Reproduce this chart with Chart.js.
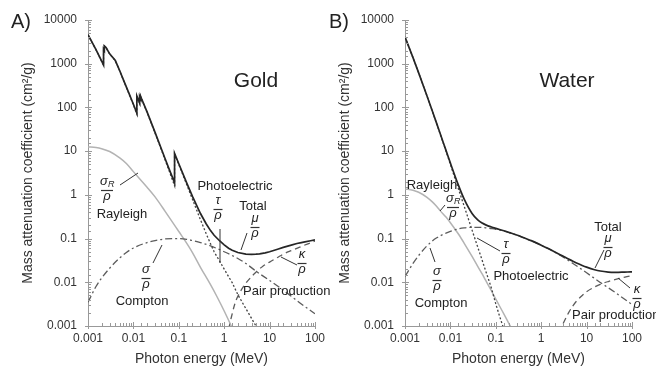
<!DOCTYPE html>
<html><head><meta charset="utf-8">
<script src="https://cdn.jsdelivr.net/npm/chart.js@4"></script>
<style>
html,body{margin:0;padding:0;background:#fff;}
#wrap{position:relative;width:656px;height:370px;overflow:hidden;background:#fff;}
canvas{position:absolute;top:0;}
#ca{left:0;} #cb{left:317px;}
</style></head><body>
<div id="wrap"><canvas id="ca" width="330" height="370"></canvas><canvas id="cb" width="339" height="370"></canvas></div>
<script>
// ---------- data (energy MeV, mass attenuation cm2/g) ----------
const xTickLabels = ['0.001','0.01','0.1','1','10','100'];
const yTickLabels = ['0.001','0.01','0.1','1','10','100','1000','10000'];

const goldTotal = [[0.001,4600],[0.0015,2090],[0.002,1140],[0.0022,930],[0.0022,2150],[0.00229,2000],[0.00229,2550],[0.0025,2350],[0.003,1680],[0.004,1180],[0.005,690],[0.006,432],[0.008,209],[0.01,118],[0.0119,74],[0.0119,183],[0.0137,127],[0.0137,175],[0.0144,156],[0.0144,180],[0.015,161],[0.02,79],[0.03,26.8],[0.04,12.3],[0.05,6.7],[0.06,4.1],[0.0807,1.9],[0.0807,8.9],[0.1,5.16],[0.15,1.86],[0.2,0.92],[0.3,0.374],[0.4,0.218],[0.5,0.152],[0.6,0.119],[0.8,0.088],[1,0.072],[1.25,0.060],[1.5,0.054],[2,0.048],[3,0.044],[4,0.0434],[5,0.0439],[6,0.0448],[8,0.0472],[10,0.050],[15,0.057],[20,0.063],[30,0.071],[40,0.077],[50,0.081],[60,0.084],[80,0.089],[100,0.093]];
const goldPhoto = [[0.001,4585],[0.0015,2078],[0.002,1128],[0.0022,919],[0.0022,2139],[0.00229,1989],[0.00229,2539],[0.0025,2339],[0.003,1670],[0.004,1171],[0.005,683],[0.006,425],[0.008,204],[0.01,115],[0.0119,71],[0.0119,180],[0.0137,124],[0.0137,172],[0.0144,153],[0.0144,177],[0.015,158],[0.02,77.5],[0.03,25.9],[0.04,11.7],[0.05,6.25],[0.06,3.75],[0.0807,1.62],[0.0807,8.6],[0.1,4.93],[0.15,1.70],[0.2,0.79],[0.3,0.27],[0.4,0.13],[0.5,0.076],[0.6,0.05],[0.8,0.03],[1,0.02],[1.5,0.0098],[2,0.0052],[3,0.0025],[4,0.0015],[5,0.001],[6,0.00078]];
const goldRayleigh = [[0.001,12.5],[0.0015,12.1],[0.002,11.4],[0.003,9.8],[0.005,7.0],[0.007,5.2],[0.01,3.4],[0.02,1.5],[0.03,0.9],[0.05,0.42],[0.07,0.25],[0.1,0.145],[0.15,0.078],[0.2,0.048],[0.3,0.022],[0.5,0.0088],[0.7,0.0046],[1,0.0022],[1.5,0.0009]];
const goldCompton = [[0.001,0.0035],[0.0015,0.008],[0.002,0.0125],[0.003,0.021],[0.005,0.036],[0.007,0.048],[0.01,0.061],[0.02,0.081],[0.03,0.09],[0.05,0.098],[0.08,0.1],[0.1,0.1],[0.15,0.096],[0.2,0.09],[0.3,0.081],[0.5,0.068],[1,0.05],[2,0.035],[3,0.027],[5,0.018],[10,0.011],[20,0.0066],[30,0.0048],[50,0.0032],[100,0.0019]];
const goldPair = [[1.1,0.0003],[1.25,0.0008],[1.5,0.0019],[1.7,0.0031],[2,0.0048],[3,0.0095],[4,0.0135],[5,0.017],[7,0.023],[10,0.029],[15,0.037],[20,0.044],[30,0.053],[50,0.066],[70,0.076],[100,0.088]];

const waterTotal = [[0.001,4078],[0.0015,1376],[0.002,617],[0.003,193],[0.004,82.8],[0.005,42.6],[0.006,24.6],[0.008,10.4],[0.01,5.33],[0.015,1.67],[0.02,0.81],[0.03,0.376],[0.04,0.268],[0.05,0.227],[0.06,0.206],[0.08,0.184],[0.1,0.171],[0.15,0.151],[0.2,0.137],[0.3,0.119],[0.4,0.106],[0.5,0.0969],[0.6,0.0896],[0.8,0.0787],[1,0.0707],[1.5,0.0575],[2,0.0494],[3,0.0397],[4,0.034],[5,0.0303],[6,0.0277],[8,0.0243],[10,0.0222],[15,0.0194],[20,0.0181],[30,0.0171],[40,0.0168],[50,0.0169],[60,0.017],[80,0.0172],[100,0.0173]];
const waterPhoto = [[0.001,4076],[0.0015,1375],[0.002,616],[0.003,192],[0.004,82],[0.005,42],[0.006,24],[0.008,10],[0.01,4.94],[0.015,1.37],[0.02,0.56],[0.03,0.156],[0.04,0.064],[0.05,0.032],[0.06,0.018],[0.08,0.0073],[0.1,0.0032],[0.15,0.00085],[0.2,0.00035]];
const waterRayleigh = [[0.001,1.37],[0.0015,1.28],[0.002,1.15],[0.003,0.89],[0.004,0.69],[0.005,0.54],[0.006,0.43],[0.008,0.31],[0.01,0.23],[0.015,0.127],[0.02,0.079],[0.03,0.039],[0.04,0.023],[0.05,0.0155],[0.06,0.011],[0.08,0.0064],[0.1,0.0041],[0.15,0.0019],[0.2,0.00108],[0.25,0.0007]];
const waterCompton = [[0.001,0.0136],[0.0015,0.027],[0.002,0.041],[0.003,0.067],[0.004,0.088],[0.005,0.104],[0.006,0.116],[0.008,0.133],[0.01,0.146],[0.015,0.166],[0.02,0.175],[0.03,0.181],[0.04,0.181],[0.05,0.179],[0.06,0.176],[0.08,0.169],[0.1,0.163],[0.15,0.149],[0.2,0.137],[0.3,0.119],[0.5,0.0966],[1,0.0707],[2,0.049],[3,0.038],[5,0.027],[10,0.0165],[20,0.0099],[30,0.0075],[50,0.0052],[100,0.0031]];
const waterPair = [[2.5,0.0007],[3,0.0011],[4,0.002],[5,0.0029],[6,0.0037],[8,0.005],[10,0.0061],[15,0.0078],[20,0.009],[30,0.0104],[50,0.0121],[70,0.0132],[100,0.0142]];

// ---------- presentation ----------
const FONT = '"Liberation Sans", Arial, Helvetica, sans-serif';
Chart.defaults.font.family = FONT;
Chart.defaults.color = '#333';

function isMajor(v){ const l = Math.log10(v); return Math.abs(l - Math.round(l)) < 1e-6; }
function pts(a){ return a.map(p => ({x:p[0], y:p[1]})); }

const styles = {
  total:   {borderColor:'#262626', borderWidth:1.7},
  photo:   {borderColor:'#444', borderWidth:1.3, borderDash:[2,2]},
  rayleigh:{borderColor:'#b3b3b3', borderWidth:1.5},
  compton: {borderColor:'#5c5c5c', borderWidth:1.3, borderDash:[7,3,2,3]},
  pair:    {borderColor:'#5c5c5c', borderWidth:1.3, borderDash:[6,4]}
};

const tickPlugin = {
  id:'tickmarks',
  afterDraw(chart){
    const {ctx, chartArea:a, scales:{x, y}} = chart;
    ctx.save();
    ctx.strokeStyle = '#999'; ctx.lineWidth = 1; ctx.beginPath();
    y.ticks.forEach(t => {
      const p = Math.round(y.getPixelForValue(t.value)) + 0.5, m = isMajor(t.value);
      ctx.moveTo(a.left - (m ? 3 : 0), p); ctx.lineTo(a.left + (m ? 4 : 3), p);
    });
    x.ticks.forEach(t => {
      const p = Math.round(x.getPixelForValue(t.value)) + 0.5, m = isMajor(t.value);
      ctx.moveTo(p, a.bottom + (m ? 3 : 0)); ctx.lineTo(p, a.bottom - (m ? 4 : 3));
    });
    ctx.stroke(); ctx.restore();
  }
};

function notesPlugin(n, off){
  return {
    id:'notes',
    afterDraw(chart){
      const ctx = chart.ctx;
      ctx.save();
      ctx.fillStyle = '#222'; ctx.strokeStyle = '#333'; ctx.lineWidth = 1;
      ctx.textBaseline = 'middle';
      n.big.forEach(b => {
        ctx.font = b.size + 'px ' + FONT; ctx.textAlign = b.align;
        ctx.fillText(b.t, b.x - off, b.y);
      });
      ctx.font = '13px ' + FONT;
      n.texts.forEach(t => { ctx.textAlign = t.align || 'center'; ctx.fillText(t.t, t.x - off, t.y); });
      ctx.beginPath();
      n.leaders.forEach(l => { ctx.moveTo(l[0] - off, l[1]); ctx.lineTo(l[2] - off, l[3]); });
      ctx.stroke();
      ctx.textBaseline = 'alphabetic'; ctx.textAlign = 'center';
      n.fracs.forEach(f => {
        const x = f.x - off;
        ctx.font = 'italic 13px ' + FONT;
        if (f.sub) {
          const w = ctx.measureText(f.n).width;
          ctx.fillText(f.n, x - 3, f.bar - 5);
          ctx.font = 'italic 9px ' + FONT;
          ctx.textAlign = 'left';
          ctx.fillText(f.sub, x - 3 + w/2, f.bar - 3);
          ctx.textAlign = 'center';
          ctx.font = 'italic 13px ' + FONT;
        } else {
          ctx.fillText(f.n, x, f.bar - 5);
        }
        ctx.beginPath();
        const hw = f.sub ? 6 : 4.5;
        ctx.moveTo(x - hw, f.bar + 0.5); ctx.lineTo(x + hw, f.bar + 0.5);
        ctx.lineWidth = 1.2; ctx.stroke();
        ctx.fillText('\u03C1', x, f.bar + 10);
      });
      ctx.restore();
    }
  };
}

function makeChart(id, s, smoothTotal, padRight, notes, off){
  const tot = smoothTotal ? {cubicInterpolationMode:'monotone'} : {tension:0};
  const datasets = [
    Object.assign({data:pts(s.total)}, tot, styles.total),
    Object.assign({data:pts(s.photo)}, tot, styles.photo),
    Object.assign({data:pts(s.compton), cubicInterpolationMode:'monotone'}, styles.compton),
    Object.assign({data:pts(s.rayleigh), cubicInterpolationMode:'monotone'}, styles.rayleigh),
    Object.assign({data:pts(s.pair), cubicInterpolationMode:'monotone'}, styles.pair)
  ];
  datasets.forEach(d => { d.pointRadius = 0; d.fill = false; });
  return new Chart(document.getElementById(id), {
    type:'line',
    data:{datasets},
    options:{
      responsive:false, animation:false, devicePixelRatio:1,
      layout:{padding:{left:0, top:20, right:padRight, bottom:0}},
      plugins:{legend:{display:false}, tooltip:{enabled:false}},
      scales:{
        x:{
          type:'logarithmic', min:0.001, max:100,
          afterFit:sc => { sc.height = 44; },
          grid:{display:false, drawTicks:false},
          border:{display:true, color:'#999', width:1},
          ticks:{autoSkip:false, maxRotation:0, minRotation:0, padding:5, color:'#333', font:{size:12},
            callback:v => isMajor(v) ? xTickLabels[Math.round(Math.log10(v)) + 3] : ''},
          title:{display:true, text:'Photon energy (MeV)', color:'#333', font:{size:14}, padding:{top:0, bottom:2}}
        },
        y:{
          type:'logarithmic', min:0.001, max:10000,
          afterFit:sc => { sc.width = 88; },
          grid:{display:false, drawTicks:false},
          border:{display:true, color:'#999', width:1},
          ticks:{autoSkip:false, padding:11, color:'#333', font:{size:12},
            callback:v => isMajor(v) ? yTickLabels[Math.round(Math.log10(v)) + 3] : ''},
          title:{display:true, text:'Mass attenuation coefficient (cm\u00B2/g)', color:'#333', font:{size:14}, padding:{top:20, bottom:0}}
        }
      }
    },
    plugins:[tickPlugin, notesPlugin(notes, off)]
  });
}

const goldNotes = {
  big:[{t:'Gold', x:256, y:81, size:21, align:'center'}, {t:'A)', x:11, y:22, size:20, align:'left'}],
  texts:[{t:'Rayleigh', x:122, y:214}, {t:'Compton', x:142, y:301}, {t:'Photoelectric', x:235, y:186}, {t:'Total', x:253, y:206}, {t:'Pair production', x:243, y:291, align:'left'}],
  fracs:[{n:'\u03C3', sub:'R', x:107, bar:190}, {n:'\u03C4', x:218, bar:209}, {n:'\u03BC', x:255, bar:227}, {n:'\u03BA', x:302, bar:263}, {n:'\u03C3', x:146, bar:278}],
  leaders:[[120,185,138,173],[220,229,220,263],[247,233,241,250],[297,265,281,257],[153,263,162,245]]
};
const waterNotes = {
  big:[{t:'Water', x:567, y:81, size:21, align:'center'}, {t:'B)', x:329, y:22, size:20, align:'left'}],
  texts:[{t:'Rayleigh', x:432, y:185}, {t:'Photoelectric', x:531, y:276}, {t:'Compton', x:441, y:303}, {t:'Total', x:608, y:227}, {t:'Pair production', x:572, y:315, align:'left'}],
  fracs:[{n:'\u03C3', sub:'R', x:453, bar:207}, {n:'\u03C4', x:506, bar:253}, {n:'\u03C3', x:437, bar:280}, {n:'\u03BC', x:608, bar:247}, {n:'\u03BA', x:637, bar:298}],
  leaders:[[445,205,440,211],[500,251,477,238],[435,262,430,248],[604,250,595,268],[630,288,618,278]]
};

makeChart('ca', {total:goldTotal, photo:goldPhoto, rayleigh:goldRayleigh, compton:goldCompton, pair:goldPair}, false, 12, goldNotes, 0);
makeChart('cb', {total:waterTotal, photo:waterPhoto, rayleigh:waterRayleigh, compton:waterCompton, pair:waterPair}, true, 24, waterNotes, 317);
</script>
</body></html>
